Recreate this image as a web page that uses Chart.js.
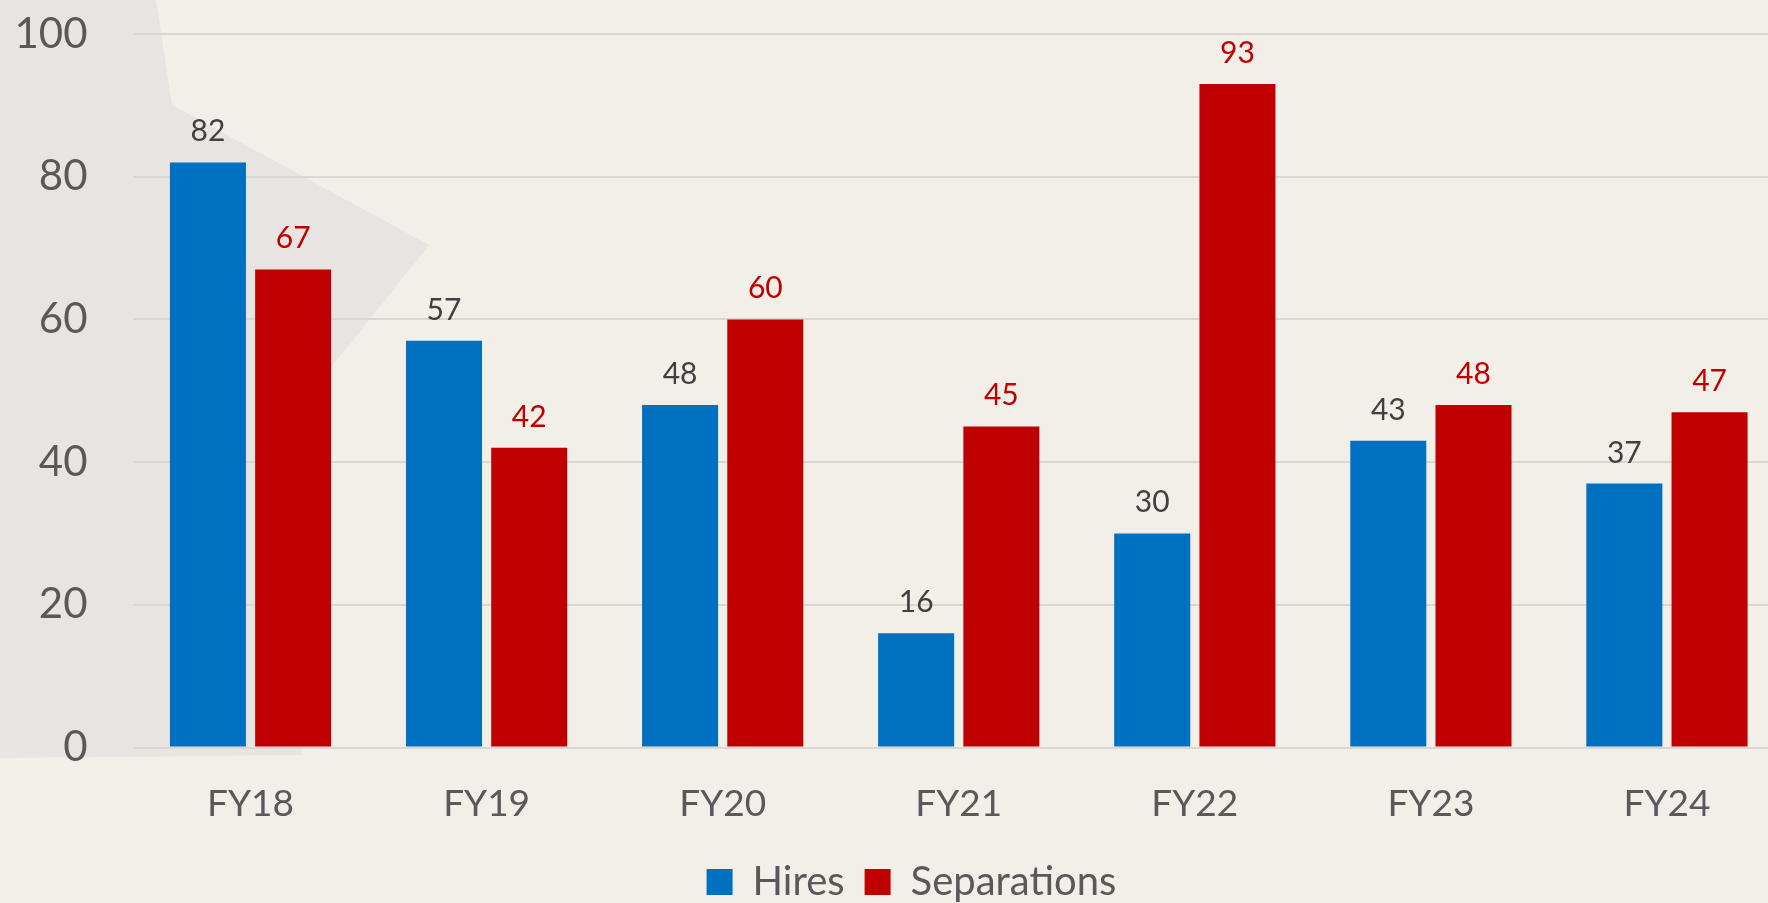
<!DOCTYPE html>
<html>
<head>
<meta charset="utf-8">
<script src="https://cdn.jsdelivr.net/npm/chart.js@4.4.1/dist/chart.umd.min.js"></script>
<style>
  html, body { margin: 0; padding: 0; overflow: hidden; background: #F2EEE8; }
  #wrap { position: absolute; left: 0; top: 0; width: 1785px; height: 903px; }
</style>
</head>
<body>
<div id="wrap"><canvas id="c"></canvas></div>
<script>
// ---- data ----
const categories = ['FY18', 'FY19', 'FY20', 'FY21', 'FY22', 'FY23', 'FY24'];
const hires = [82, 57, 48, 16, 30, 43, 37];
const separations = [67, 42, 60, 45, 93, 48, 47];
const seriesNames = ['Hires', 'Separations'];
const yTicks = [0, 20, 40, 60, 80, 100];

const FONT = 'Lato, "Open Sans", sans-serif';
const BLUE = '#0070C0';
const RED = '#C00000';

const bgPlugin = {
  id: 'bgDeco',
  beforeDraw(chart) {
    const ctx = chart.ctx;
    ctx.save();
    ctx.fillStyle = '#F2EEE8';
    ctx.fillRect(0, 0, chart.width, chart.height);
    ctx.fillStyle = '#E8E4E1';
    ctx.beginPath();
    ctx.moveTo(0, 0);
    ctx.lineTo(156, 0);
    ctx.lineTo(172, 105);
    ctx.lineTo(429, 245);
    ctx.lineTo(333, 365);
    ctx.lineTo(302, 398);
    ctx.lineTo(302, 755);
    ctx.lineTo(0, 758);
    ctx.closePath();
    ctx.fill();
    ctx.restore();
  }
};

const labelPlugin = {
  id: 'valueLabels',
  afterDatasetsDraw(chart) {
    const ctx = chart.ctx;
    ctx.save();
    ctx.font = '30px ' + FONT;
    ctx.textAlign = 'center';
    ctx.textBaseline = 'alphabetic';
    chart.data.datasets.forEach((ds, di) => {
      const meta = chart.getDatasetMeta(di);
      ctx.fillStyle = di === 0 ? '#404040' : RED;
      meta.data.forEach((bar, i) => {
        ctx.fillText(String(ds.data[i]), bar.x, bar.y - 21);
      });
    });
    ctx.restore();
  }
};

const legendShift = {
  id: 'legendShift',
  afterLayout(chart) {
    const lg = chart.legend;
    if (!lg) return;
    const dx = 19, dy = 9;
    lg.left += dx; lg.right += dx;
    lg.top += dy; lg.bottom += dy;
  }
};

new Chart(document.getElementById('c'), {
  type: 'bar',
  data: {
    labels: categories,
    datasets: [
      { label: seriesNames[0], data: hires, backgroundColor: BLUE,
        categoryPercentage: 0.722, barPercentage: 0.892 },
      { label: seriesNames[1], data: separations, backgroundColor: RED,
        categoryPercentage: 0.722, barPercentage: 0.892 }
    ]
  },
  options: {
    responsive: true,
    maintainAspectRatio: false,
    animation: false,
    devicePixelRatio: 1,
    layout: { padding: { top: 34, left: 0, right: 0, bottom: 0 } },
    plugins: {
      legend: {
        position: 'bottom',
        labels: {
          font: { family: FONT, size: 40 },
          color: '#595959',
          boxWidth: 26,
          boxHeight: 26,
          padding: 20
        }
      },
      tooltip: { enabled: false }
    },
    scales: {
      x: {
        grid: { display: false },
        border: { display: false },
        ticks: { font: { family: FONT, size: 37 }, color: '#595959', padding: 26.5 },
        afterFit(s) { s.height = 85.5; }
      },
      y: {
        min: 0, max: 100,
        afterBuildTicks(s) { s.ticks = yTicks.map(v => ({ value: v })); },
        grid: { color: '#DAD7D3', lineWidth: 2, drawTicks: false },
        border: { display: false },
        ticks: { font: { family: FONT, size: 42 }, color: '#595959', padding: 45 },
        afterFit(s) { s.width = 132.5; s.paddingTop = 0; s.paddingBottom = 0; }
      }
    }
  },
  plugins: [bgPlugin, labelPlugin, legendShift]
});
</script>
</body>
</html>
